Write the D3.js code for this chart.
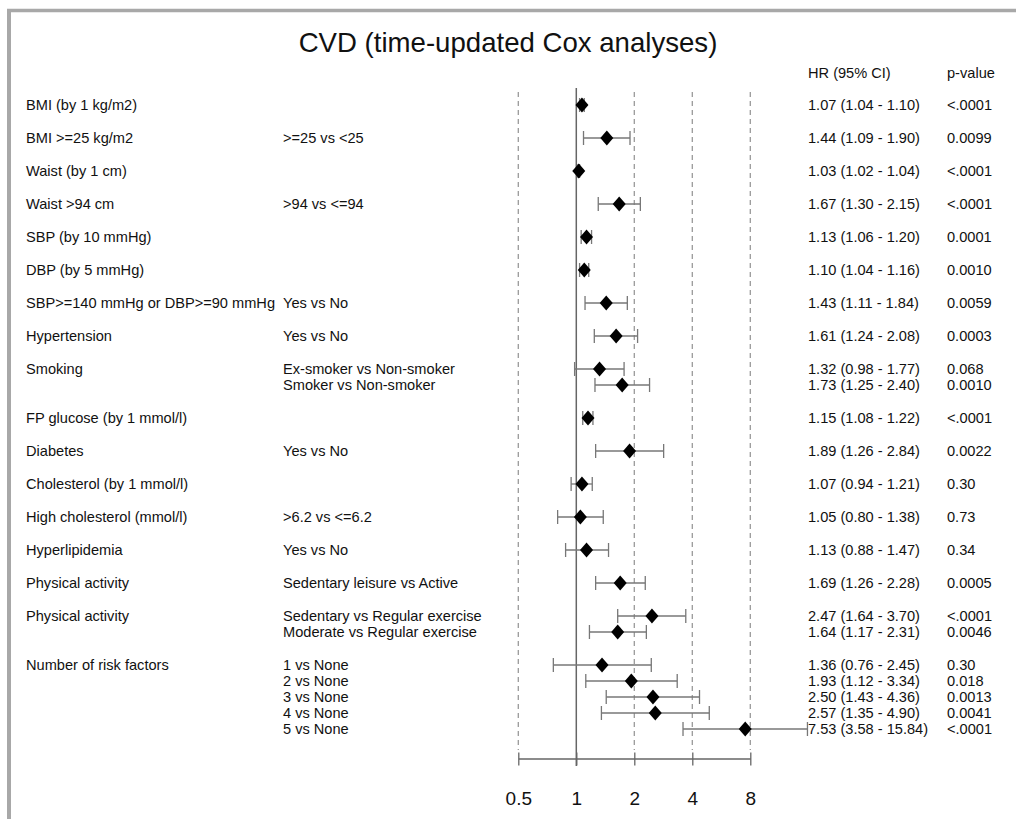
<!DOCTYPE html>
<html>
<head>
<meta charset="utf-8">
<script src="https://cdn.jsdelivr.net/npm/d3@7/dist/d3.min.js"></script>
<style>
  html, body { margin: 0; padding: 0; background: #fff; }
  svg { display: block; }
  text { font-family: "Liberation Sans", Arial, sans-serif; fill: #111; }
</style>
</head>
<body>
<svg id="chart" width="1016" height="819"></svg>
<script>
// Forest plot rows: variable, comparison, HR with 95% CI, p-value
const variables = [
  "BMI (by 1 kg/m2)", "BMI >=25 kg/m2", "Waist (by 1 cm)", "Waist >94 cm",
  "SBP (by 10 mmHg)", "DBP (by 5 mmHg)", "SBP>=140 mmHg or DBP>=90 mmHg",
  "Hypertension", "Smoking", "", "FP glucose (by 1 mmol/l)", "Diabetes",
  "Cholesterol (by 1 mmol/l)", "High cholesterol (mmol/l)", "Hyperlipidemia",
  "Physical activity", "Physical activity", "", "Number of risk factors", "", "", "", ""
];
const comparisons = [
  "", ">=25 vs <25", "", ">94 vs <=94", "", "", "Yes vs No", "Yes vs No",
  "Ex-smoker vs Non-smoker", "Smoker vs Non-smoker", "", "Yes vs No", "",
  ">6.2 vs <=6.2", "Yes vs No", "Sedentary leisure vs Active",
  "Sedentary vs Regular exercise", "Moderate vs Regular exercise",
  "1 vs None", "2 vs None", "3 vs None", "4 vs None", "5 vs None"
];
const hr    = [1.07, 1.44, 1.03, 1.67, 1.13, 1.10, 1.43, 1.61, 1.32, 1.73, 1.15, 1.89, 1.07, 1.05, 1.13, 1.69, 2.47, 1.64, 1.36, 1.93, 2.50, 2.57, 7.53];
const lower = [1.04, 1.09, 1.02, 1.30, 1.06, 1.04, 1.11, 1.24, 0.98, 1.25, 1.08, 1.26, 0.94, 0.80, 0.88, 1.26, 1.64, 1.17, 0.76, 1.12, 1.43, 1.35, 3.58];
const upper = [1.10, 1.90, 1.04, 2.15, 1.20, 1.16, 1.84, 2.08, 1.77, 2.40, 1.22, 2.84, 1.21, 1.38, 1.47, 2.28, 3.70, 2.31, 2.45, 3.34, 4.36, 4.90, 15.84];
const pvalues = ["<.0001", "0.0099", "<.0001", "<.0001", "0.0001", "0.0010", "0.0059", "0.0003", "0.068", "0.0010", "<.0001", "0.0022", "0.30", "0.73", "0.34", "0.0005", "<.0001", "0.0046", "0.30", "0.018", "0.0013", "0.0041", "<.0001"];
const axisTicks = [0.5, 1, 2, 4, 8];

const title = "CVD (time-updated Cox analyses)";

const svg = d3.select("#chart");

// panel frame (top and left edges)
svg.append("line").attr("x1", 7).attr("x2", 1016).attr("y1", 10.5).attr("y2", 10.5)
  .attr("stroke", "#a8a8a8").attr("stroke-width", 3.5);
svg.append("line").attr("x1", 9).attr("x2", 9).attr("y1", 9).attr("y2", 819)
  .attr("stroke", "#a8a8a8").attr("stroke-width", 4);

svg.append("text").attr("x", 508).attr("y", 52).attr("text-anchor", "middle")
  .style("font-size", "27.6px").text(title);

// vertical layout: new variable -> full row gap, extra comparison -> half gap
const slots = [];
let acc = 0;
variables.forEach((v, i) => {
  if (i > 0) acc += v !== "" ? 33 : 16;
  slots.push(acc);
});
const y = d3.scaleLinear().domain([0, acc]).range([105, 105 + acc]);

const x = d3.scaleLog().base(2).domain([0.5, 8]).range([518.3, 750.3]);

const fs = "14.6px";
const colVar = 26, colCmp = 283, colHR = 808, colP = 947;

svg.append("text").attr("x", colHR).attr("y", 73).attr("dy", "0.35em").style("font-size", fs).text("HR (95% CI)");
svg.append("text").attr("x", colP).attr("y", 73).attr("dy", "0.35em").style("font-size", fs).text("p-value");

// reference lines
const plotTop = 92, plotBottom = 750;
axisTicks.forEach(t => {
  if (t === 1) {
    svg.append("line").attr("x1", x(t)).attr("x2", x(t)).attr("y1", 88).attr("y2", 766)
      .attr("stroke", "#666").attr("stroke-width", 1.5);
  } else {
    svg.append("line").attr("x1", x(t)).attr("x2", x(t)).attr("y1", plotTop).attr("y2", plotBottom)
      .attr("stroke", "#9a9a9a").attr("stroke-width", 1.3).attr("stroke-dasharray", "5,4");
  }
});

// bottom axis
const axis = d3.axisBottom(x).tickValues(axisTicks).tickFormat(d => d3.format("")(d))
  .tickSizeInner(0).tickSizeOuter(0).tickPadding(33);
const gAxis = svg.append("g").attr("transform", "translate(0,758.5)").call(axis);
gAxis.select(".domain").attr("stroke", "#666").attr("stroke-width", 1.3);
gAxis.selectAll(".tick text").style("font-family", "Liberation Sans, Arial, sans-serif")
  .style("font-size", "19px").attr("fill", "#111");
gAxis.selectAll(".tick").append("line").attr("y1", -6).attr("y2", 7)
  .attr("stroke", "#666").attr("stroke-width", 1.3);

const rows = hr.map((h, i) => ({ v: variables[i], c: comparisons[i], h, lo: lower[i], hi: upper[i], p: pvalues[i], yy: y(slots[i]) }));

const g = svg.append("g");
g.selectAll(".var").data(rows).join("text").attr("x", colVar).attr("y", d => d.yy).attr("dy", "0.35em")
  .style("font-size", fs).text(d => d.v);
g.selectAll(".cmp").data(rows).join("text").attr("x", colCmp).attr("y", d => d.yy).attr("dy", "0.35em")
  .style("font-size", fs).text(d => d.c);
g.selectAll(".hr").data(rows).join("text").attr("x", colHR).attr("y", d => d.yy).attr("dy", "0.35em")
  .style("font-size", fs).text(d => `${d.h.toFixed(2)} (${d.lo.toFixed(2)} - ${d.hi.toFixed(2)})`);
g.selectAll(".pv").data(rows).join("text").attr("x", colP).attr("y", d => d.yy).attr("dy", "0.35em")
  .style("font-size", fs).text(d => d.p);

// confidence intervals with end caps
const ci = g.selectAll(".ci").data(rows).join("g");
ci.append("line").attr("x1", d => x(d.lo)).attr("x2", d => x(d.hi)).attr("y1", d => d.yy).attr("y2", d => d.yy)
  .attr("stroke", "#777").attr("stroke-width", 1.3);
ci.append("line").attr("x1", d => x(d.lo)).attr("x2", d => x(d.lo)).attr("y1", d => d.yy - 7).attr("y2", d => d.yy + 7)
  .attr("stroke", "#777").attr("stroke-width", 1.3);
ci.append("line").attr("x1", d => x(d.hi)).attr("x2", d => x(d.hi)).attr("y1", d => d.yy - 7).attr("y2", d => d.yy + 7)
  .attr("stroke", "#777").attr("stroke-width", 1.3);

// point estimates
g.selectAll(".pt").data(rows).join("path")
  .attr("d", d => { const cx = x(d.h), cy = d.yy; return `M${cx},${cy - 7.5}L${cx + 6.5},${cy}L${cx},${cy + 7.5}L${cx - 6.5},${cy}Z`; })
  .attr("fill", "#000");
</script>
</body>
</html>
